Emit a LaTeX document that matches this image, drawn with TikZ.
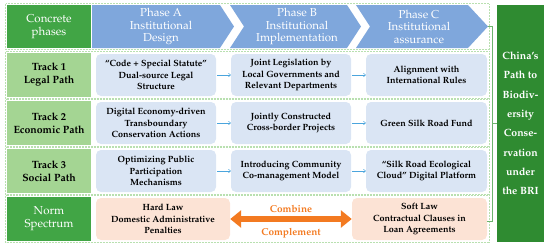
\documentclass[tikz,border=0pt]{standalone}
\usepackage[T1]{fontenc}
\usepackage{mathpazo}
\usetikzlibrary{arrows.meta}

\definecolor{phasegreen}{HTML}{41A545}
\definecolor{pathgreen}{HTML}{2F8B31}
\definecolor{tracklight}{HTML}{A4D593}
\definecolor{chevblue}{HTML}{7FA7DC}
\definecolor{cellblue}{HTML}{DAE5F4}
\definecolor{normpeach}{HTML}{FCE3D5}
\definecolor{combineorange}{HTML}{F37A21}
\definecolor{arrowblue}{HTML}{4BA5DD}
\definecolor{rowline}{HTML}{B9E0B0}
\definecolor{bracegreen}{HTML}{6DB46D}

\begin{document}
\begin{tikzpicture}[x=1pt,y=-1pt,
    headbox/.style={fill=phasegreen, text=white, minimum width=84pt, minimum height=43pt,
      align=center, inner sep=0pt, font=\fontsize{11.5}{13}\selectfont},
    trackbox/.style={fill=tracklight, minimum width=84pt, minimum height=44pt,
      align=center, inner sep=0pt, font=\fontsize{10.5}{13}\selectfont\bfseries},
    cellbox/.style={fill=cellblue, rounded corners=5pt, minimum width=120pt, minimum height=42pt,
      align=center, inner sep=0pt, font=\fontsize{9}{11.5}\selectfont\bfseries},
    normbox/.style={cellbox, fill=normpeach, minimum width=134pt},
    phasetext/.style={text=white, align=center, font=\fontsize{11.5}{12.5}\selectfont},
    rowframe/.style={draw=rowline, densely dotted, line width=0.5pt},
    flowarrow/.style={draw=arrowblue, line width=0.5pt, -{To[length=2.5pt,width=4pt]}, shorten <=1pt},
    orangetext/.style={text=combineorange, font=\fontsize{10}{12}\selectfont\bfseries}]

  \useasboundingbox (0,0) rectangle (550,247);

  \coordinate (Hc) at (49,26.5);
  \coordinate (T1c) at (49,75);
  \coordinate (T2c) at (49,123);
  \coordinate (T3c) at (49,171);
  \coordinate (Nc) at (49,219);

  \draw[rowframe] (5.5,3.5) rectangle (489,49.5);
  \draw[rowframe] (5.5,51.5) rectangle (489,98.5);
  \draw[rowframe] (5.5,99.5) rectangle (489,146.5);
  \draw[rowframe] (5.5,147.5) rectangle (489,194.5);
  \draw[rowframe] (5.5,195.5) rectangle (489,242.5);

  \node[headbox] (concrete) at (Hc) {Concrete\\phases};
  \node[trackbox] (track1) at (T1c) {Track 1\\Legal Path};
  \node[trackbox] (track2) at (T2c) {Track 2\\Economic Path};
  \node[trackbox] (track3) at (T3c) {Track 3\\Social Path};
  \node[headbox, minimum height=44pt] (norm) at (Nc) {Norm\\Spectrum};


  \fill[chevblue] (92,5) -- (220,5) -- (234,26.5) -- (220,48) -- (92,48) -- cycle;
  \fill[chevblue] (230,5) -- (347,5) -- (361,26.5) -- (347,48) -- (230,48) -- (244,26.5) -- cycle;
  \fill[chevblue] (356,5) -- (468,5) -- (488,26.5) -- (468,48) -- (356,48) -- (370,26.5) -- cycle;
  \node[phasetext] (phaseA) at (161,26.5) {Phase A\\Institutional\\Design};
  \node[phasetext] (phaseB) at (297,26.5) {Phase B\\Institutional\\Implementation};
  \node[phasetext] (phaseC) at (419,26.5) {Phase C\\Institutional\\assurance};


  \node[cellbox] (legalA) at (156,75) {``Code + Special Statute''\\Dual-source Legal\\Structure};
  \node[cellbox] (legalB) at (291,75) {Joint Legislation by\\Local Governments and\\Relevant Departments};
  \node[cellbox, minimum width=121pt] (legalC) at (426.5,75) {Alignment with\\International Rules};
  \draw[flowarrow] (legalA) -- (legalB);
  \draw[flowarrow] (legalB) -- (legalC);

  \node[cellbox] (econA) at (156,123) {Digital Economy-driven\\Transboundary\\Conservation Actions};
  \node[cellbox] (econB) at (291,123) {Jointly Constructed\\Cross-border Projects};
  \node[cellbox, minimum width=121pt] (econC) at (426.5,123) {Green Silk Road Fund};
  \draw[flowarrow] (econA) -- (econB);
  \draw[flowarrow] (econB) -- (econC);

  \node[cellbox] (socialA) at (156,171) {Optimizing Public\\Participation\\Mechanisms};
  \node[cellbox] (socialB) at (291,171) {Introducing Community\\Co-management Model};
  \node[cellbox, minimum width=121pt] (socialC) at (426.5,171) {``Silk Road Ecological\\Cloud'' Digital Platform};
  \draw[flowarrow] (socialA) -- (socialB);
  \draw[flowarrow] (socialB) -- (socialC);


  \node[normbox] (hardlaw) at (163,219) {Hard Law\\Domestic Administrative\\Penalties};
  \node[normbox, minimum width=135pt] (softlaw) at (419.5,219) {Soft Law\\Contractual Clauses in\\Loan Agreements};
  \draw[combineorange, line width=6pt,
    {Triangle[length=11pt,width=17pt]}-{Triangle[length=11pt,width=17pt]}] (hardlaw) -- (softlaw);
  \node[orangetext] (combine) at (291,209) {Combine};
  \node[orangetext] (complement) at (291,233) {Complement};


  \node[fill=pathgreen, text=white, minimum width=47pt, minimum height=237pt, inner sep=0pt,
    align=center, font=\fontsize{10.5}{19.3}\selectfont\bfseries] (brpath) at (520.5,123.5)
    {China's\\Path to\\Biodiv-\\ersity\\Conse-\\rvation\\under\\the BRI};

  \coordinate (braceTop) at (492,26.5);
  \coordinate (braceBot) at (492,221);
  \coordinate (braceMid) at (492,123.5);
  \draw[bracegreen, line width=0.6pt] (488,26.5) -- (braceTop) -- (braceBot) -- (487,221);
  \draw[bracegreen, line width=0.6pt] (braceMid) -- (brpath.west |- braceMid);
\end{tikzpicture}
\end{document}
